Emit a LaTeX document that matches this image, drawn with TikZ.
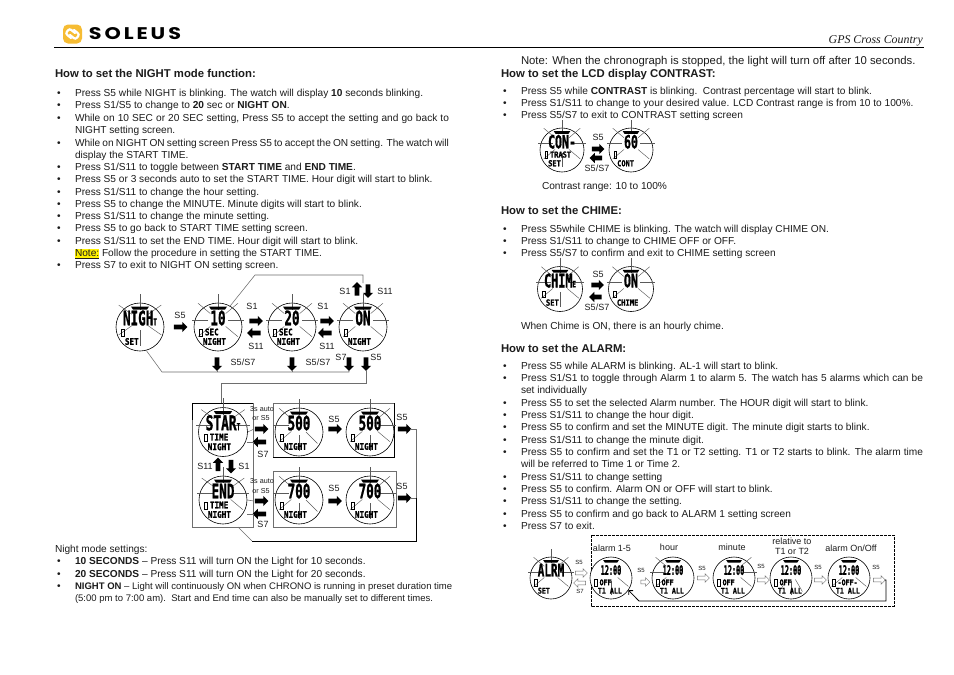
\documentclass[tikz,border=0pt]{standalone}
\usepackage{fontspec}
\usepackage{graphicx}
\setmainfont{Liberation Sans}
\newfontfamily\serifit[ItalicFont={Liberation Serif Italic}]{Liberation Serif}
\newfontfamily\lcdfont[BoldFeatures={FakeBold=1.4}]{DejaVu Sans Mono}
\newfontfamily\logofont[LetterSpace=14]{Poppins}
\usetikzlibrary{shapes.arrows,arrows.meta}
\definecolor{logoY}{HTML}{F6BC33}
\definecolor{inkc}{HTML}{1C1C1C}
\definecolor{linec}{HTML}{6E6E6E}
\definecolor{rayc}{HTML}{5A5A5A}
\newcounter{txtc}
\newcommand{\pagefont}{\fontsize{10.14}{12}\selectfont}
\newcommand{\headfont}{\fontsize{11.33}{13}\selectfont}
\newcommand{\tl}[3]{\stepcounter{txtc}\node[bodytxt] (t\thetxtc) at (#1,#2+3.3) {#3};}
\newcommand{\hd}[3]{\stepcounter{txtc}\node[bodytxt,font=\headfont\bfseries] (t\thetxtc) at (#1,#2+3.6) {#3};}
\newcommand{\bl}[2]{\tl{57}{#1}{•}\tl{75}{#1}{#2}}
\newcommand{\br}[2]{\tl{503}{#1}{•}\tl{521}{#1}{#2}}
\newcommand{\jl}[1]{\makebox[374pt][s]{#1}}
\newcommand{\jr}[1]{\makebox[402pt][s]{#1}}
\newcommand{\lab}[3]{\stepcounter{txtc}\node[keylab] (t\thetxtc) at (#1,#2) {#3};}
\newcommand{\labs}[3]{\stepcounter{txtc}\node[keylab,font=\fontsize{7.2}{8}\selectfont] (t\thetxtc) at (#1,#2) {#3};}
\newcommand{\labt}[3]{\stepcounter{txtc}\node[keylab,font=\fontsize{6}{7}\selectfont] (t\thetxtc) at (#1,#2) {#3};}
\newcommand{\lcdbig}[1]{{\fontsize{21}{21}\lcdfont\bfseries\scalebox{.6}[.95]{#1}}}
\newcommand{\lcdsub}[1]{{\fontsize{10}{10}\selectfont #1}}
\newcommand{\lcdsmall}[1]{{\fontsize{10}{10}\lcdfont\bfseries\scalebox{.76}[.9]{#1}}}
% name, cx, cy, r, big, line2, line3, ray angles
\newcommand{\watch}[8]{%
  \begin{scope}[shift={(#2,#3)},scale=#4/24,every node/.append style={transform shape}]
    \node[watchc] (#1) at (0,0) {};
    \foreach \a in {#8} {\draw[rayline] ([shift={(0,-7)}]\a:10) -- ([shift={(0,-7)}]\a:26);}
    \fill[black] (-9,-20.5) -- (9,-20.5) -- (7,-17.5) -- (-7,-17.5) -- cycle;
    \node[lcdn] (#1b) at (0,-9) {\lcdbig{#5}};
    \draw[black,line width=.7] (-18.5,2) rectangle (-15.5,9);
    \node[lcdn,anchor=west] (#1c) at (-13,5) {\lcdsmall{#6}};
    \node[lcdn,anchor=west] (#1d) at (-15,14.5) {\lcdsmall{#7}};
  \end{scope}}
\tikzset{
  bodytxt/.style={anchor=base west,inner sep=0,outer sep=0,text=inkc,font=\pagefont},
  keylab/.style={inner sep=0,outer sep=0,text=inkc,font=\fontsize{9}{10}\selectfont},
  watchc/.style={circle,draw=black,line width=.6,fill=white,minimum size=48pt,inner sep=0},
  rayline/.style={rayc,line width=.45},
  lcdn/.style={inner sep=0,outer sep=0,text=black},
  barrow/.style={single arrow,fill=black,draw=none,inner sep=0,outer sep=0,text width=1pt,text height=4.4pt,text depth=0pt,minimum height=13.5pt,minimum width=0pt,single arrow head extend=2.8pt},
  harrow/.style={single arrow,fill=white,draw=linec,line width=.45,inner sep=0,outer sep=0,text width=1pt,text height=3.2pt,text depth=0pt,minimum height=12pt,minimum width=0pt,single arrow head extend=2.4pt},
  conn/.style={linec,line width=.55},
  darkconn/.style={black,line width=.8},
  framebox/.style={draw=linec,line width=.6,inner sep=0},
}
\begin{document}
\begin{tikzpicture}[x=1pt,y=-1pt]
\useasboundingbox (0,0) rectangle (954,675);
\fill[white] (0,0) rectangle (954,675);
% header
\node[fill=logoY,rounded corners=5pt,minimum size=19pt,inner sep=0] (logo) at (72.5,34) {};
\begin{scope}[white,line width=2.2,line cap=round,rounded corners=2.2]
\draw (71,38) -- (65.5,33.5) -- (69.5,28.5) -- (75,33);
\draw (74,30) -- (79.5,34.5) -- (75.5,39.5) -- (70,35);
\end{scope}
\node[inner sep=0] (brand) at (135,34) {\resizebox{92pt}{12pt}{\logofont\bfseries SOLEUS}};
\draw[black,line width=.8] (54,47.5) -- (924,47.5);
\node[anchor=base east,inner sep=0,text=inkc] (gps) at (923,43) {\fontsize{11.9}{13}\serifit\itshape GPS Cross Country};
% left column
\hd{55}{74}{How to set the NIGHT mode function:}
\bl{93}{Press S5 while NIGHT is blinking. The watch will display \textbf{10} seconds blinking.}
\bl{105}{Press S1/S5 to change to \textbf{20} sec or \textbf{NIGHT ON}.}
\bl{118}{\jl{While on 10 SEC or 20 SEC setting, Press S5 to accept the setting and go back to}}
\tl{75}{130}{NIGHT setting screen.}
\bl{143}{\jl{While on NIGHT ON setting screen Press S5 to accept the ON setting. The watch will}}
\tl{75}{155}{display the START TIME.}
\bl{167}{Press S1/S11 to toggle between \textbf{START TIME} and \textbf{END TIME}.}
\bl{179}{Press S5 or 3 seconds auto to set the START TIME. Hour digit will start to blink.}
\bl{192}{Press S1/S11 to change the hour setting.}
\bl{204}{Press S5 to change the MINUTE. Minute digits will start to blink.}
\bl{216}{Press S1/S11 to change the minute setting.}
\bl{228}{Press S5 to go back to START TIME setting screen.}
\bl{241}{Press S1/S11 to set the END TIME. Hour digit will start to blink.}
\tl{75}{253}{{\fboxsep=0pt\colorbox{yellow}{\underline{Note:}}} Follow the procedure in setting the START TIME.}
\bl{265}{Press S7 to exit to NIGHT ON setting screen.}
\tl{55}{549}{Night mode settings:}
\bl{561}{\textbf{10 SECONDS} – Press S11 will turn ON the Light for 10 seconds.}
\bl{574}{\textbf{20 SECONDS} – Press S11 will turn ON the Light for 20 seconds.}
\bl{586}{\fontsize{9.52}{12}\selectfont\textbf{NIGHT ON} – Light will continuously ON when CHRONO is running in preset duration time}
\tl{75}{598}{\fontsize{9.52}{12}\selectfont (5:00 pm to 7:00 am).\ \ Start and End time can also be manually set to different times.}
% right column
\tl{521}{61}{\headfont Note: When the chronograph is stopped, the light will turn off after 10 seconds.}
\hd{501}{74}{How to set the LCD display CONTRAST:}
\br{91}{Press S5 while \textbf{CONTRAST} is blinking.\ \ Contrast percentage will start to blink.}
\br{103}{Press S1/S11 to change to your desired value. LCD Contrast range is from 10 to 100\%.}
\br{115}{Press S5/S7 to exit to CONTRAST setting screen}
\tl{542}{186}{Contrast range: 10 to 100\%}
\hd{501}{211}{How to set the CHIME:}
\br{229}{Press S5while CHIME is blinking. The watch will display CHIME ON.}
\br{241}{Press S1/S11 to change to CHIME OFF or OFF.}
\br{253}{Press S5/S7 to confirm and exit to CHIME setting screen}
\tl{521}{326}{When Chime is ON, there is an hourly chime.}
\hd{501}{349}{How to set the ALARM:}
\br{366}{Press S5 while ALARM is blinking. AL-1 will start to blink.}
\br{378}{\jr{Press S1/S1 to toggle through Alarm 1 to alarm 5. The watch has 5 alarms which can be}}
\tl{521}{390}{set individually}
\br{403}{Press S5 to set the selected Alarm number. The HOUR digit will start to blink.}
\br{415}{Press S1/S11 to change the hour digit.}
\br{427}{Press S5 to confirm and set the MINUTE digit. The minute digit starts to blink.}
\br{440}{Press S1/S11 to change the minute digit.}
\br{452}{\jr{Press S5 to confirm and set the T1 or T2 setting. T1 or T2 starts to blink. The alarm time}}
\tl{521}{464}{will be referred to Time 1 or Time 2.}
\br{477}{Press S1/S11 to change setting}
\br{489}{Press S5 to confirm. Alarm ON or OFF will start to blink.}
\br{501}{Press S1/S11 to change the setting.}
\br{514}{Press S5 to confirm and go back to ALARM 1 setting screen}
\br{526}{Press S7 to exit.}
% night diagram: frames
\draw[framebox] (192,403) rectangle (253,527);
\draw[black,line width=.8] (192,403) -- (253,403) (192,403) -- (192,420);
\draw[framebox] (273,403) rectangle (394,457);
\draw[black,line width=.8] (273,457) -- (394,457) -- (394,403);
\draw[framebox] (273,471) rectangle (396,527);
% watches
\watch{wnight}{140}{327}{24}{NIGH\lcdsub{T}}{}{SET}{-145,-90,-35,35,90,145}
\watch{wten}{218}{327}{24}{10}{SEC}{NIGHT}{-140,-90,-40,0,180,40,140}
\watch{wtwenty}{292}{327}{24}{20}{SEC}{NIGHT}{-140,-90,-40,0,180,40,140}
\watch{won}{363}{327}{24}{ON}{}{NIGHT}{-140,-90,-40,0,180,40,140}
\watch{wstart}{223}{432}{24.5}{STAR\lcdsub{T}}{TIME}{NIGHT}{-145,-90,-35,0,180}
\watch{wend}{223}{500}{24}{END}{TIME}{NIGHT}{-145,-90,-35,0,180,40}
\watch{wfivea}{299}{432}{24}{500}{}{NIGHT}{-140,-90,180,45,90,140}
\watch{wfiveb}{370}{432}{24}{500}{}{NIGHT}{-90,-40,0,40,90,140}
\watch{wsevena}{299}{500}{24}{700}{}{NIGHT}{-140,-90,180,90,45,140}
\watch{wsevenb}{370}{500}{24}{700}{}{NIGHT}{-90,-40,0,40,90,140}
\watch{wcona}{562}{150}{22}{CON-}{TRAST}{SET}{-140,-90,-40,0,180,40,90,140}
\watch{wconb}{631}{150}{22}{60}{}{CONT}{-140,-90,-40,0,180,40,140}
\watch{wchia}{560}{289}{22.5}{CHIM\lcdsub{E}}{}{SET}{-140,-90,-40,0,180,40,90,140}
\watch{wchib}{631}{289}{22.5}{ON}{}{CHIME}{-140,-90,-40,0,180,40,140}
\watch{wala}{551}{578}{21}{ALRM}{}{SET}{-140,-90,-40,0,180,40,140}
\draw[black,line width=.7,dash pattern=on 3pt off 1pt] (591,535) rectangle (894,606);
\watch{walb}{611}{578}{21}{\scalebox{.62}[.75]{12:00}}{OFF}{T1 ALL}{40,90}
\watch{walc}{673}{578}{21}{\scalebox{.62}[.75]{12:00}}{OFF}{T1 ALL}{-140,180,140}
\watch{wald}{734}{578}{21}{\scalebox{.62}[.75]{12:00}}{OFF}{T1 ALL}{-40,0,40}
\watch{wale}{791}{578}{21}{\scalebox{.62}[.75]{12:00}}{OFF}{T1 ALL}{120,90,60}
\watch{walf}{849}{578}{21}{\scalebox{.62}[.75]{12:00}}{-OFF-}{T1 ALL}{140,40}
% block arrows, top row
\node[barrow] (a1) at (179.5,327) {};
\node[barrow] (a2) at (255,321) {};
\node[barrow,rotate=180] (a3) at (255,333) {};
\node[barrow] (a4) at (326,321) {};
\node[barrow,rotate=180] (a5) at (326,333) {};
\node[barrow,rotate=90] (a6) at (357,290) {};
\node[barrow,rotate=-90] (a7) at (368,290) {};
\node[barrow,rotate=-90] (a8) at (217,363) {};
\node[barrow,rotate=-90] (a9) at (292,363) {};
\node[barrow,rotate=-90] (a10) at (349,363) {};
\node[barrow,rotate=-90] (a11) at (366,363) {};
% block arrows, start/end
\node[barrow] (b1) at (260.5,429) {};
\node[barrow,rotate=180] (b2) at (260.5,442) {};
\node[barrow,rotate=90] (b3) at (218,465.5) {};
\node[barrow,rotate=-90] (b4) at (231,465.5) {};
\node[barrow] (b5) at (260.5,501) {};
\node[barrow,rotate=180] (b6) at (260.5,514) {};
\node[barrow] (b7) at (334,429) {};
\node[barrow] (b8) at (334,501) {};
\node[barrow] (b9) at (403.5,429) {};
\node[barrow] (b10) at (403.5,498) {};
% block arrows, contrast and chime
\node[barrow,minimum height=12.5pt] (c1) at (597,149) {};
\node[barrow,minimum height=12.5pt,rotate=180] (c2) at (597,158) {};
\node[barrow,minimum height=12.5pt] (c3) at (596.5,285) {};
\node[barrow,minimum height=12.5pt,rotate=180] (c4) at (596.5,297) {};
% hollow arrows, alarm
\node[harrow] (h1) at (580.5,573) {};
\node[harrow,rotate=180] (h2) at (580.5,583) {};
\node[harrow,minimum height=9pt] (h3) at (644.5,582) {};
\node[harrow] (h4) at (702.5,578) {};
\node[harrow] (h5) at (762.5,580) {};
\node[harrow] (h6) at (819.5,580) {};
\node[harrow] (h7) at (878.5,580) {};
% connectors
\coordinate (n1) at (255,275);
\coordinate (n2) at (363,275);
\coordinate (n3) at (363,283);
\draw[conn] (wten.60) -- (n1) -- (n2) -- (n3);
\coordinate (n4) at (162,372);
\coordinate (n5) at (349,372);
\draw[conn] (wnight.-75) -- (n4) -- (n5) -- (349,370);
\coordinate (n5a) at (217,372);
\coordinate (n5b) at (292,372);
\draw[conn] (n5a) -- (217,369.5) (n5b) -- (292,369.5);
\coordinate (n6) at (366,383);
\coordinate (n7) at (221,383);
\coordinate (n8) at (221,403);
\draw[conn] (366,369.5) -- (n6) -- (n7) -- (n8);
\coordinate (n9) at (416,429);
\coordinate (n10) at (416,541);
\coordinate (n11) at (252,541);
\coordinate (n12) at (238,527);
\draw[conn] (410,429) -- (n9) (410,498) -- (416,498);
\draw[conn] (n9) -- (416,498);
\draw[darkconn] (416,498) -- (n10) -- (n11);
\draw[conn] (n11) -- (n12);
\draw[conn] (wstart.east) -- (254,429);
\draw[conn] (254,442) -- (247,442);
\draw[conn] (wend.east) -- (254,501);
\draw[conn] (254,514) -- (247,514);
\coordinate (r1) at (886,580);
\coordinate (r2) at (886,601);
\coordinate (r3) at (639,601);
\draw[darkconn,-{Straight Barb[length=3pt]}] (884.5,580) -- (r1) -- (r2) -- (r3) -- (walb.-35);
% labels
\lab{180}{315}{S5}
\lab{252}{306}{S1}\lab{256}{346}{S11}
\lab{323}{306}{S1}\lab{327}{346}{S11}
\lab{345}{291}{S1}\lab{385}{291}{S11}
\lab{243}{362}{S5/S7}\lab{318}{362}{S5/S7}
\lab{341}{357}{S7}\lab{376}{357}{S5}
\labs{262}{409}{3s auto}\labs{261}{418}{or S5}
\labs{262}{481}{3s auto}\labs{261}{491}{or S5}
\lab{263}{454}{S7}\lab{263}{524}{S7}
\lab{205}{466}{S11}\lab{244}{466}{S1}
\lab{334}{419}{S5}\lab{334}{488}{S5}
\lab{402}{417}{S5}\lab{402}{486}{S5}
\lab{598}{137}{S5}\lab{597}{168}{S5/S7}
\lab{598}{274}{S5}\lab{597}{307}{S5/S7}
\labt{579}{562}{S5}\labt{580}{591}{S7}
\labt{641}{570}{S5}\labt{702}{568}{S5}
\labt{761}{566}{S5}\labt{818}{567}{S5}\labt{876}{567}{S5}
\lab{612}{548}{alarm 1-5}\lab{669}{547}{hour}\lab{732}{547}{minute}
\lab{792}{541}{relative to}\lab{792}{551}{T1 or T2}\lab{851}{548}{alarm On/Off}
\end{tikzpicture}
\end{document}
